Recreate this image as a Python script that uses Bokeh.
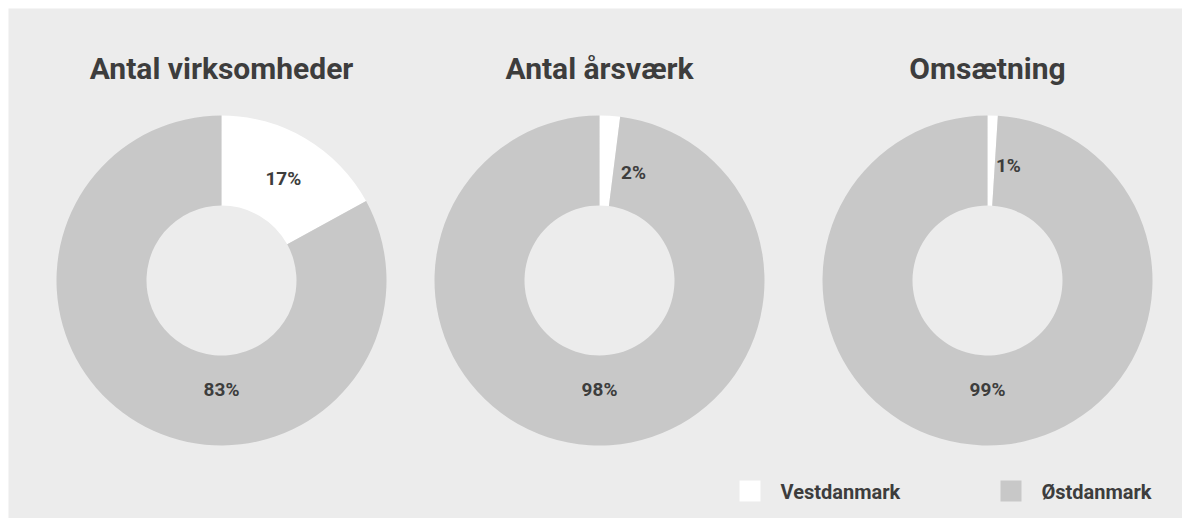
import math
from bokeh.plotting import figure
from bokeh.models import ColumnDataSource, Range1d
from bokeh.core.properties import value
from bokeh.embed import file_html
from bokeh.resources import INLINE

# ---- data ----
titles = ["Antal virksomheder", "Antal årsværk", "Omsætning"]
series = ["Vestdanmark", "Østdanmark"]
vest = [17, 2, 1]
oest = [83, 98, 99]

# ---- style / layout (screen pixel positions) ----
W, H = 1182, 518
PAD = 8
BG = "#ececec"
COLORS = ["#ffffff", "#c8c8c8"]
TXT = "#3d3d3d"
FONT = "Roboto"


def sx(x):
    return x - PAD


def sy(y):
    return H - y


centers_x = [221, 599, 987]
center_y = 280
R_OUT, R_IN = 165, 75
small_label_angle = [31.3, 17.5, 10.3]   # degrees clockwise from top
small_label_r = [119, 113, 117]
big_label_y = 389
title_y = 67.5

p = figure(width=W, height=H, x_range=Range1d(0, W - PAD), y_range=Range1d(0, H - PAD),
           output_backend="svg", toolbar_location=None,
           min_border_left=PAD, min_border_top=PAD, min_border_right=0, min_border_bottom=0,
           background_fill_color=BG, border_fill_color="#ffffff", outline_line_color=None)
p.axis.visible = False
p.grid.visible = False

wx, wy, ws, we, wc = [], [], [], [], []
lx, ly, lt = [], [], []
for i, cxs in enumerate(centers_x):
    cx, cy = sx(cxs), sy(center_y)
    vals = [vest[i], oest[i]]
    total = sum(vals)
    start = math.pi / 2
    for j, v in enumerate(vals):
        end = start - 2 * math.pi * v / total
        wx.append(cx); wy.append(cy)
        ws.append(end); we.append(start); wc.append(COLORS[j])
        start = end
    a = math.radians(90 - small_label_angle[i])
    lx.append(cx + small_label_r[i] * math.cos(a))
    ly.append(cy + small_label_r[i] * math.sin(a))
    lt.append(f"{vest[i]}%")
    lx.append(cx)
    ly.append(sy(big_label_y))
    lt.append(f"{oest[i]}%")

src = ColumnDataSource(dict(x=wx, y=wy, s=ws, e=we, c=wc))
p.annular_wedge(x="x", y="y", inner_radius=R_IN, outer_radius=R_OUT,
                start_angle="s", end_angle="e", fill_color="c", line_color=None,
                source=src)

lsrc = ColumnDataSource(dict(x=lx, y=ly, t=lt))
p.text(x="x", y="y", text="t", source=lsrc, text_align="center",
       text_baseline="middle", text_font=value(FONT), text_font_size="19px",
       text_font_style="bold", text_color=TXT)

tsrc = ColumnDataSource(dict(x=[sx(c) for c in centers_x], y=[sy(title_y)] * 3, t=titles))
p.text(x="x", y="y", text="t", source=tsrc, text_align="center",
       text_baseline="middle", text_font=value(FONT), text_font_size="30px",
       text_font_style="bold", text_color=TXT)

# legend
leg_sq_x = [749.5, 1010.5]
leg_y = 490.5
p.rect(x=[sx(x) for x in leg_sq_x], y=[sy(leg_y)] * 2, width=21, height=21,
       fill_color=COLORS, line_color=None)
p.text(x=[sx(x + 30.5) for x in leg_sq_x], y=[sy(leg_y + 1)] * 2, text=series,
       text_align="left", text_baseline="middle", text_font=value(FONT),
       text_font_size="20px", text_font_style="bold", text_color=TXT)

open("out.html", "w").write(file_html(p, INLINE))
